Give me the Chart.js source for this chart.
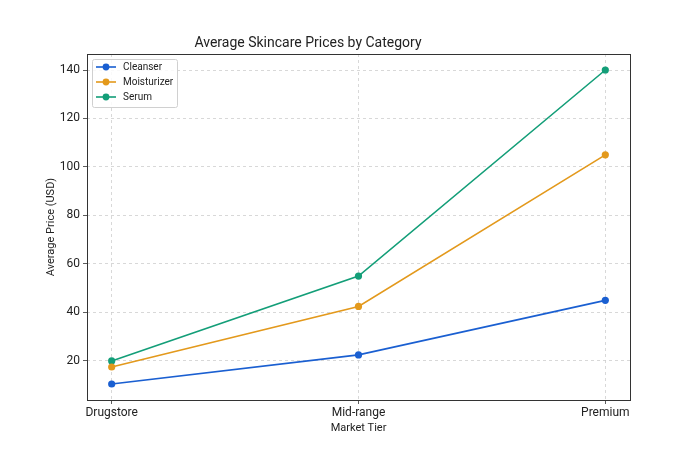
<!DOCTYPE html>
<html>
<head>
<meta charset="utf-8">
<script src="https://cdn.jsdelivr.net/npm/chart.js@4"></script>
<style>
  html, body { margin: 0; padding: 0; background: #ffffff; }
  #wrap { width: 700px; height: 450px; position: relative; }
</style>
</head>
<body>
<div id="wrap"><canvas id="c" width="700" height="450"></canvas></div>
<script>
const titleText = "Average Skincare Prices by Category";
const categories = ["Drugstore", "Mid-range", "Premium"];
const seriesNames = ["Cleanser", "Moisturizer", "Serum"];
const cleanser = [10.5, 22.5, 45];
const moisturizer = [17.5, 42.5, 105];
const serum = [20, 55, 140];
const seriesColors = ["#1a5fd1", "#e3991c", "#139e78"];
const xTitle = "Market Tier";
const yTitle = "Average Price (USD)";

const FONT = "Roboto, 'DejaVu Sans', sans-serif";
const allSeries = [cleanser, moisturizer, serum];

const datasets = allSeries.map((vals, i) => ({
  label: seriesNames[i],
  data: vals.map((v, j) => ({ x: j, y: v })),
  borderColor: seriesColors[i],
  backgroundColor: seriesColors[i],
  borderWidth: 1.6,
  pointRadius: 3.6,
  pointHoverRadius: 3.6,
  pointBorderWidth: 0,
  tension: 0
}));

const framePlugin = {
  id: 'frame',
  afterDraw(chart) {
    const ctx = chart.ctx;
    const a = chart.chartArea;
    ctx.save();
    // frame
    ctx.strokeStyle = '#333333';
    ctx.lineWidth = 1;
    ctx.strokeRect(Math.round(a.left) + 0.5, Math.round(a.top) + 0.5,
                   Math.round(a.right - a.left), Math.round(a.bottom - a.top));
    // title
    ctx.fillStyle = '#222222';
    ctx.font = "14px " + FONT;
    ctx.textAlign = 'center';
    ctx.textBaseline = 'middle';
    ctx.fillText(titleText, 308, 43);
    // legend
    const bx = 92.5, by = 59.5, bw = 85, bh = 48;
    ctx.fillStyle = 'rgba(255,255,255,0.85)';
    ctx.strokeStyle = '#d0d0d0';
    ctx.lineWidth = 1;
    ctx.beginPath();
    if (ctx.roundRect) ctx.roundRect(bx, by, bw, bh, 2); else ctx.rect(bx, by, bw, bh);
    ctx.fill();
    ctx.stroke();
    ctx.font = "10px " + FONT;
    ctx.textAlign = 'left';
    ctx.textBaseline = 'middle';
    seriesNames.forEach((name, i) => {
      const y = 67 + i * 15;
      ctx.strokeStyle = seriesColors[i];
      ctx.lineWidth = 1.6;
      ctx.beginPath();
      ctx.moveTo(96, y);
      ctx.lineTo(116, y);
      ctx.stroke();
      ctx.fillStyle = seriesColors[i];
      ctx.beginPath();
      ctx.arc(106, y, 3.4, 0, Math.PI * 2);
      ctx.fill();
      ctx.fillStyle = '#222222';
      ctx.fillText(name, 123, y);
    });
    ctx.restore();
  }
};

new Chart(document.getElementById('c'), {
  type: 'line',
  data: { datasets },
  options: {
    responsive: false,
    animation: false,
    devicePixelRatio: 1,
    layout: { padding: { top: 54, right: 70, bottom: 0, left: 0 } },
    plugins: {
      legend: { display: false },
      title: { display: false },
      tooltip: { enabled: false }
    },
    scales: {
      x: {
        type: 'linear',
        min: -0.1,
        max: 2.1,
        afterFit(scale) { scale.height = 50; },
        ticks: {
          stepSize: 1,
          includeBounds: false,
          autoSkip: false,
          maxRotation: 0,
          padding: 2,
          color: '#222222',
          font: { family: FONT, size: 12 },
          callback: (v) => categories[v] !== undefined ? categories[v] : ''
        },
        grid: {
          color: '#cfcfcf',
          borderDash: [3, 3],
          tickBorderDash: [],
          tickColor: '#333333',
          tickLength: 4,
          lineWidth: 0.8
        },
        border: { display: false, dash: [3, 3] },
        title: {
          display: true,
          text: xTitle,
          color: '#222222',
          font: { family: FONT, size: 11 },
          padding: { top: 0, bottom: 15 }
        }
      },
      y: {
        type: 'linear',
        min: 3.9,
        max: 146.6,
        afterFit(scale) { scale.width = 87; },
        ticks: {
          stepSize: 20,
          includeBounds: false,
          padding: 3,
          color: '#222222',
          font: { family: FONT, size: 12 }
        },
        grid: {
          color: '#cfcfcf',
          tickColor: '#333333',
          tickLength: 4,
          lineWidth: 0.8
        },
        border: { display: false, dash: [3, 3] },
        title: {
          display: true,
          text: yTitle,
          color: '#222222',
          font: { family: FONT, size: 11 },
          padding: { top: 45, bottom: 0 }
        }
      }
    }
  },
  plugins: [framePlugin]
});
</script>
</body>
</html>
